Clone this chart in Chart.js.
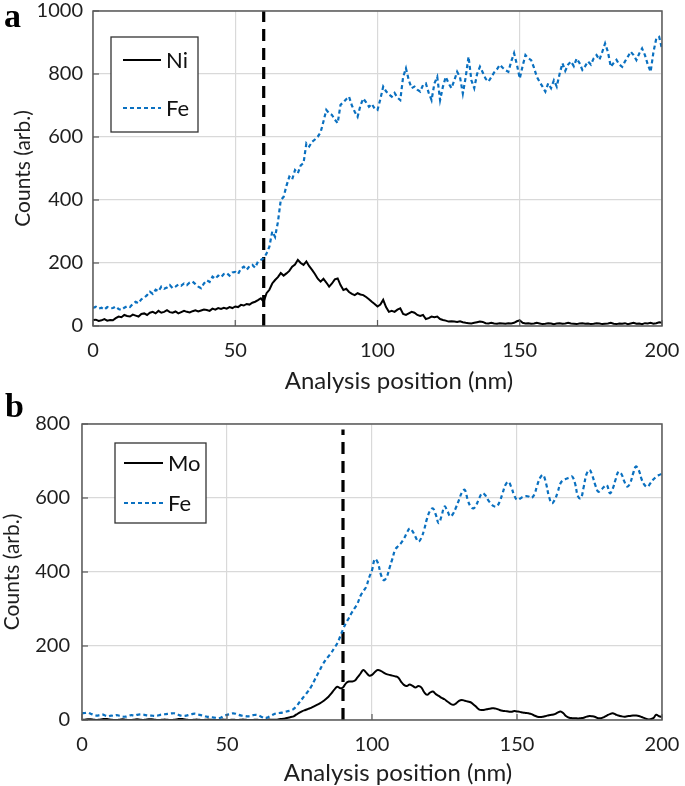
<!DOCTYPE html>
<html><head><meta charset="utf-8">
<script src="https://cdn.jsdelivr.net/npm/chart.js@4.4.0/dist/chart.umd.min.js"></script>
<style>
html,body{margin:0;padding:0;background:#fff;width:685px;height:786px;overflow:hidden;}
.wrap{position:absolute;left:0;width:685px;}
.lbl{position:absolute;font-family:"Liberation Serif",serif;font-weight:bold;font-size:34px;line-height:1;color:#000;}
</style></head><body>
<div class="wrap" style="top:0;height:398px"><canvas id="ca" width="685" height="398"></canvas></div>
<div class="wrap" style="top:390px;height:396px"><canvas id="cb" width="685" height="396"></canvas></div>
<div class="lbl" style="left:4px;top:-1px">a</div>
<div class="lbl" style="left:5px;top:389px">b</div>
<script>
// ---- Panel a data (1 nm steps, 0..200 nm) ----
const feA = [57,61,55,58,52,60,56,57,62,54,51,58,63,60,70,77,72,85,90,98,
109,102,115,110,125,118,122,130,120,125,132,128,135,130,138,141,133,125,120,135,
145,140,157,150,160,155,165,168,160,170,172,165,182,188,178,190,194,185,205,210,
215,230,252,300,283,330,400,410,445,474,465,495,485,510,517,580,570,585,592,601,
615,649,686,675,670,655,644,702,710,720,728,700,680,664,700,722,710,696,705,690,
686,720,760,745,735,728,740,725,717,790,818,780,755,760,750,744,765,770,740,717,
770,791,717,760,791,770,755,780,807,790,738,790,855,780,755,800,823,805,785,776,
790,805,815,829,820,812,807,840,866,830,786,825,860,850,844,820,791,775,760,744,
770,755,780,760,800,834,810,830,840,825,849,835,813,825,840,830,850,860,845,870,
897,870,823,835,845,830,823,840,855,871,860,844,865,881,860,830,807,870,913,918,880];
const niA = [19,20,16,18,22,17,19,18,25,30,28,35,32,30,36,33,30,38,40,35,
42,45,40,48,42,45,50,44,42,46,40,44,48,45,43,47,50,46,49,52,
51,48,55,52,57,54,58,55,60,57,62,60,67,65,70,68,74,77,82,88,
77,104,115,135,146,155,168,160,167,175,188,195,210,200,194,205,190,178,165,150,
141,150,138,125,135,148,151,130,114,118,108,102,98,104,100,98,92,85,77,70,
62,68,83,60,45,48,45,52,56,38,35,40,45,42,35,32,35,22,25,30,
28,30,22,19,17,14,15,14,13,15,12,10,9,8,10,12,14,13,9,8,
10,8,7,9,8,7,9,8,10,15,18,10,8,9,7,8,10,8,6,7,
9,8,6,8,9,7,8,10,8,7,6,8,9,7,8,6,7,9,8,6,
7,8,10,7,6,8,7,9,6,8,10,7,8,6,9,8,10,7,9,12,10];
const markerA = 60;

// ---- Panel b data (1 nm steps, 0..200 nm) ----
const feB = [18,19,20,17,14,12,13,15,12,10,12,11,13,11,9,9,11,13,12,14,
15,15,13,12,12,11,12,14,15,16,17,18,18,15,12,11,12,14,16,17,
15,13,11,9,8,7,6,5,7,11,14,16,18,17,14,12,11,10,11,13,
14,12,8,5,7,11,15,18,19,20,22,24,26,30,38,48,58,68,78,90,
105,120,135,150,162,172,182,195,207,225,245,262,275,290,302,315,335,348,360,385,
405,435,425,395,378,385,410,435,460,470,478,490,505,518,510,495,482,492,515,545,
565,572,555,532,552,577,565,550,558,575,595,615,622,595,577,572,582,600,613,608,
595,585,578,577,590,612,635,644,630,608,595,598,603,605,604,600,610,635,655,662,
640,605,586,595,615,640,649,652,655,658,640,605,599,630,665,676,660,635,617,622,
630,635,613,625,650,671,665,645,631,640,665,685,675,650,635,630,640,650,657,662,665];
const moB = [0,1,2,2,1,0,1,2,3,2,1,0,0,1,2,1,0,0,1,2,
1,0,1,2,2,1,0,0,1,1,0,0,1,2,3,2,1,0,0,1,
1,0,0,1,1,0,0,0,1,1,0,0,1,0,0,1,1,0,0,0,
1,0,0,0,1,1,1,1,2,3,4,6,8,10,15,20,24,27,30,33,
37,41,45,50,56,63,72,82,90,86,88,99,104,104,106,115,125,135,128,120,
122,130,135,133,128,124,122,120,118,115,104,95,92,96,92,88,92,88,75,68,
74,77,70,65,60,56,50,44,41,45,52,54,52,50,48,42,35,28,27,28,
30,31,32,30,27,25,24,23,22,24,23,22,20,19,18,16,12,9,8,9,
11,13,14,16,20,23,18,10,6,5,5,4,5,6,9,11,10,8,5,5,
8,12,16,18,15,12,10,9,10,11,12,12,11,8,5,2,2,5,14,10,8];
const markerB = 90;

const xTicks = [0,50,100,150,200];

const BLUE = '#0a70c0';
const GRID = '#d9d9d9';
const AXIS = '#595959';
const TXT = '#1e1e1e';
const FONT = 'Lato';

function pts(arr){ return arr.map((v,i)=>({x:i,y:v})); }

const framePlugin = {
  id:'frame',
  afterDatasetsDraw(chart){
    const {ctx, chartArea:a, scales} = chart;
    ctx.save();
    ctx.strokeStyle = AXIS; ctx.lineWidth = 1.5;
    ctx.strokeRect(a.left, a.top, a.right-a.left, a.bottom-a.top);
    ctx.lineWidth = 1.2;
    scales.x.ticks.forEach(t=>{
      const px = scales.x.getPixelForValue(t.value);
      ctx.beginPath(); ctx.moveTo(px, a.bottom); ctx.lineTo(px, a.bottom-6); ctx.stroke();
    });
    scales.y.ticks.forEach(t=>{
      const py = scales.y.getPixelForValue(t.value);
      ctx.beginPath(); ctx.moveTo(a.left, py); ctx.lineTo(a.left+6, py); ctx.stroke();
    });
    const T = chart.options.plugins.xTitle;
    if (T){
      ctx.fillStyle = TXT;
      ctx.font = T.size + 'px ' + FONT;
      ctx.textAlign = 'center'; ctx.textBaseline = 'middle';
      ctx.fillText(T.text, T.x, T.y);
    }
    // legend
    const L = chart.options.plugins.boxLegend;
    if (L){
      ctx.fillStyle = '#fff';
      ctx.fillRect(L.x, L.y, L.w, L.h);
      ctx.strokeStyle = '#333'; ctx.lineWidth = 1.3;
      ctx.strokeRect(L.x, L.y, L.w, L.h);
      L.items.forEach(it=>{
        ctx.beginPath();
        ctx.strokeStyle = it.color; ctx.lineWidth = 2;
        ctx.setLineDash(it.dash || []);
        ctx.moveTo(L.lineX0, it.y); ctx.lineTo(L.lineX1, it.y); ctx.stroke();
        ctx.setLineDash([]);
        ctx.fillStyle = '#111';
        ctx.font = '22px ' + FONT;
        ctx.textBaseline = 'middle';
        ctx.textAlign = 'left';
        ctx.fillText(it.label, L.textX, it.y+1);
      });
    }
    ctx.restore();
  }
};

function makeChart(id, cfg){
  return new Chart(document.getElementById(id), {
    type:'line',
    data:{datasets:[
      {label:cfg.labels[1], data:pts(cfg.fe), borderColor:BLUE, borderWidth:2.2, borderDash:[4,3], pointRadius:0, tension:cfg.tension, fill:false},
      {label:cfg.labels[0], data:pts(cfg.el), borderColor:'#000', borderWidth:2, pointRadius:0, tension:cfg.tension, fill:false},
      {label:'marker', data:[{x:cfg.marker,y:0},{x:cfg.marker,y:cfg.markerTop}], borderColor:'#000', borderWidth:3.2, borderDash:[12,7], pointRadius:0, fill:false}
    ]},
    options:{
      responsive:false, animation:false, devicePixelRatio:1,
      layout:{padding:{left:0, top:cfg.padTop, right:cfg.padRight, bottom:0}},
      plugins:{legend:{display:false}, tooltip:{enabled:false}, boxLegend:cfg.legend,
        xTitle:{text:'Analysis position (nm)', size:cfg.xTitleSize, x:cfg.xTitleX, y:cfg.xTitleY}},
      scales:{
        x:{type:'linear', min:0, max:200,
          afterBuildTicks(s){ s.ticks = xTicks.map(v=>({value:v})); },
          afterFit(s){ s.height = cfg.bottomH; s.paddingLeft = 0; s.paddingRight = 0; },
          grid:{color:GRID, lineWidth:1.2, drawTicks:false},
          border:{display:false},
          ticks:{font:{family:FONT,size:20}, color:TXT, padding:cfg.xTickPad, maxRotation:0, callback:v=>String(v)},
          title:{display:false}
        },
        y:{min:0, max:cfg.ymax,
          afterBuildTicks(s){ s.ticks = cfg.yTicks.map(v=>({value:v})); },
          afterFit(s){ s.width = cfg.leftW; s.paddingTop = 0; s.paddingBottom = 0; },
          grid:{color:GRID, lineWidth:1.2, drawTicks:false},
          border:{display:false},
          ticks:{font:{family:FONT,size:20}, color:TXT, padding:cfg.yTickPad, callback:v=>String(v)},
          title:{display:true, text:'Counts (arb.)', font:{family:FONT,size:21,lineHeight:1}, color:TXT, padding:{top:cfg.yTitlePad,bottom:0}}
        }
      }
    },
    plugins:[framePlugin]
  });
}

makeChart('ca', {
  fe:feA, el:niA, labels:['Ni','Fe'], marker:markerA, markerTop:1000, tension:0,
  ymax:1000, yTicks:[0,200,400,600,800,1000],
  padTop:11, padRight:23, leftW:93, bottomH:72,
  xTickPad:13, yTickPad:10, yTitlePad:13,
  xTitleSize:24, xTitleX:399, xTitleY:381,
  legend:{x:111, y:37, w:87, h:95, lineX0:123, lineX1:161, textX:166,
    items:[{label:'Ni', y:60, color:'#000'},{label:'Fe', y:108, color:BLUE, dash:[4,3]}]}
});
makeChart('cb', {
  fe:feB, el:moB, labels:['Mo','Fe'], marker:markerB, markerTop:785, tension:0.4,
  ymax:800, yTicks:[0,200,400,600,800],
  padTop:34, padRight:23, leftW:82, bottomH:66,
  xTickPad:13, yTickPad:12, yTitlePad:2,
  xTitleSize:24, xTitleX:398, xTitleY:383,
  legend:{x:115, y:53, w:91, h:80, lineX0:124, lineX1:163, textX:168,
    items:[{label:'Mo', y:73, color:'#000'},{label:'Fe', y:113, color:BLUE, dash:[4,3]}]}
});
</script>
</body></html>
